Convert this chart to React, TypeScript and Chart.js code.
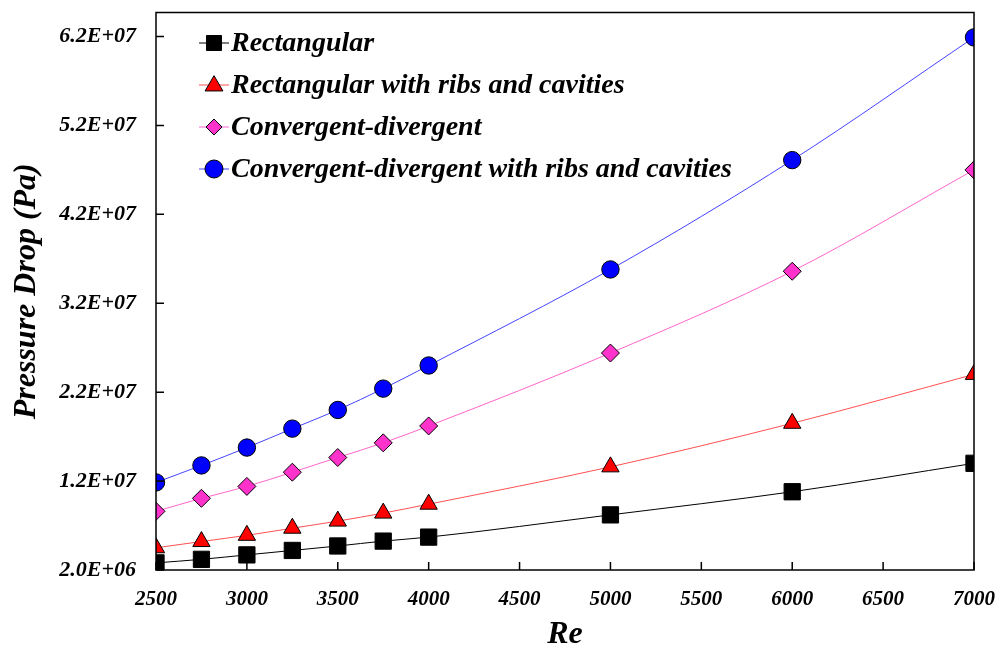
import React, { useEffect, useRef } from "react";
import { Chart, registerables } from "chart.js";

Chart.register(...registerables);

const reValues = [2500, 2750, 3000, 3250, 3500, 3750, 4000, 5000, 6000, 7000];
const rectangular = [2.8e6, 3.2e6, 3.7e6, 4.2e6, 4.7e6, 5.25e6, 5.7e6, 8.2e6, 1.08e7, 1.4e7];
const rectRibs = [4.5e6, 5.2e6, 5.9e6, 6.7e6, 7.5e6, 8.4e6, 9.4e6, 1.36e7, 1.85e7, 2.4e7];
const convDiv = [8.6e6, 1.006e7, 1.14e7, 1.3e7, 1.465e7, 1.63e7, 1.82e7, 2.64e7, 3.56e7, 4.7e7];
const convDivRibs = [1.185e7, 1.376e7, 1.577e7, 1.79e7, 2.0e7, 2.24e7, 2.5e7, 3.58e7, 4.81e7, 6.19e7];
const yTicks = [2.0e6, 1.2e7, 2.2e7, 3.2e7, 4.2e7, 5.2e7, 6.2e7];
const yTickLabels = ["2.0E+06", "1.2E+07", "2.2E+07", "3.2E+07", "4.2E+07", "5.2E+07", "6.2E+07"];
const xTicks = [2500, 3000, 3500, 4000, 4500, 5000, 5500, 6000, 6500, 7000];

const seriesNames = [
  "Rectangular",
  "Rectangular with ribs and cavities",
  "Convergent-divergent",
  "Convergent-divergent with ribs and cavities",
];

const FONT = "'Liberation Serif', 'Times New Roman', serif";

function drawMarker(ctx: CanvasRenderingContext2D, style: string, x: number, y: number, r: number, fill: string) {
  ctx.save();
  ctx.fillStyle = fill;
  ctx.strokeStyle = "#000";
  ctx.lineWidth = 1;
  ctx.beginPath();
  if (style === "rect") {
    ctx.rect(x - r, y - r, 2 * r, 2 * r);
  } else if (style === "triangle") {
    ctx.moveTo(x, y - r * 1.1);
    ctx.lineTo(x + r * 1.05, y + r * 0.7);
    ctx.lineTo(x - r * 1.05, y + r * 0.7);
    ctx.closePath();
  } else if (style === "rectRot") {
    ctx.moveTo(x, y - r);
    ctx.lineTo(x + r, y);
    ctx.lineTo(x, y + r);
    ctx.lineTo(x - r, y);
    ctx.closePath();
  } else {
    ctx.arc(x, y, r, 0, Math.PI * 2);
  }
  ctx.fill();
  ctx.stroke();
  ctx.restore();
}

const frameAndLegend = {
  id: "frameAndLegend",
  afterDatasetsDraw(chart: any) {
    const { ctx, chartArea } = chart;
    const { left, right, top, bottom } = chartArea;
    const xs = chart.scales.x;
    const ys = chart.scales.y;
    ctx.save();
    ctx.strokeStyle = "#000";
    ctx.lineWidth = 1.5;
    ctx.strokeRect(left, top, right - left, bottom - top);
    ctx.beginPath();
    for (const v of xTicks) {
      const px = xs.getPixelForValue(v);
      ctx.moveTo(px, bottom);
      ctx.lineTo(px, bottom - 8);
    }
    for (const v of yTicks) {
      const py = ys.getPixelForValue(v);
      ctx.moveTo(left, py);
      ctx.lineTo(left + 8, py);
    }
    ctx.stroke();

    // legend
    const styles = ["rect", "triangle", "rectRot", "circle"];
    const lineColors = ["#000000", "#ff5050", "#ff66cc", "#4444ff"];
    const fills = ["#000000", "#ff0000", "#ff33cc", "#0000ff"];
    const radii = [7.5, 8.5, 8, 9];
    ctx.font = `italic bold 28px ${FONT}`;
    ctx.textBaseline = "middle";
    ctx.textAlign = "left";
    for (let i = 0; i < 4; i++) {
      const y = 43 + 42 * i;
      ctx.strokeStyle = lineColors[i];
      ctx.lineWidth = 1;
      ctx.beginPath();
      ctx.moveTo(199, y);
      ctx.lineTo(229, y);
      ctx.stroke();
      drawMarker(ctx, styles[i], 214, y, radii[i], fills[i]);
      ctx.fillStyle = "#000";
      ctx.fillText(seriesNames[i], 231, y + 1);
    }
    ctx.restore();
  },
};

export default function App() {
  const ref = useRef<HTMLCanvasElement | null>(null);
  useEffect(() => {
    document.body.style.margin = "0";
    if (!ref.current) return;
    const mk = (label: string, data: number[], line: string, fill: string, style: string, r: number) => ({
      label,
      data: reValues.map((x, i) => ({ x, y: data[i] })),
      borderColor: line,
      backgroundColor: fill,
      borderWidth: 1,
      pointStyle: style,
      pointRadius: r,
      pointBackgroundColor: fill,
      pointBorderColor: "#000",
      pointBorderWidth: 1,
      cubicInterpolationMode: "monotone",
      tension: 0.4,
    });
    const chart = new Chart(ref.current, {
      type: "line",
      data: {
        datasets: [
          mk(seriesNames[3], convDivRibs, "#4444ff", "#0000ff", "circle", 8.7),
          mk(seriesNames[2], convDiv, "#ff66cc", "#ff33cc", "rectRot", 9),
          mk(seriesNames[1], rectRibs, "#ff5050", "#ff0000", "triangle", 10),
          mk(seriesNames[0], rectangular, "#000000", "#000000", "rect", 11.5),
        ] as any,
      },
      options: {
        responsive: false,
        animation: false,
        devicePixelRatio: 1,
        layout: { padding: { top: 10, right: 27, left: 0, bottom: 0 } },
        plugins: { legend: { display: false }, tooltip: { enabled: false } },
        scales: {
          x: {
            type: "linear",
            min: 2500,
            max: 7000,
            afterBuildTicks: (s: any) => {
              s.ticks = xTicks.map((v) => ({ value: v }));
            },
            afterFit: (s: any) => {
              s.height = 79;
              s.paddingLeft = 0;
              s.paddingRight = 0;
            },
            grid: { display: false },
            border: { display: false },
            ticks: {
              padding: 9,
              color: "#000",
              font: { family: FONT, size: 21, style: "italic", weight: "bold" },
              callback: (v: any) => String(v),
              maxRotation: 0,
              autoSkip: false,
            },
            title: {
              display: true,
              text: "Re",
              color: "#000",
              font: { family: FONT, size: 32, style: "italic", weight: "bold" },
              padding: { top: 8, bottom: -5 },
            },
          },
          y: {
            type: "linear",
            min: 2.0e6,
            max: 6.47e7,
            afterBuildTicks: (s: any) => {
              s.ticks = yTicks.map((v) => ({ value: v }));
            },
            afterFit: (s: any) => {
              s.width = 156;
              s.paddingTop = 0;
              s.paddingBottom = 0;
            },
            grid: { display: false },
            border: { display: false },
            ticks: {
              padding: 12,
              color: "#000",
              font: { family: FONT, size: 22, style: "italic", weight: "bold" },
              callback: (v: any) => {
                const idx = yTicks.indexOf(Number(v));
                return idx >= 0 ? yTickLabels[idx] : "";
              },
            },
            title: {
              display: true,
              text: "Pressure Drop (Pa)",
              color: "#000",
              font: { family: FONT, size: 32, style: "italic", weight: "bold" },
              padding: { top: 8, bottom: 0 },
            },
          },
        },
      },
      plugins: [frameAndLegend],
    } as any);
    return () => chart.destroy();
  }, []);
  return (
    <div style={{ width: 1001, height: 649, background: "#fff" }}>
      <canvas ref={ref} width={1001} height={649} style={{ display: "block" }} />
    </div>
  );
}
